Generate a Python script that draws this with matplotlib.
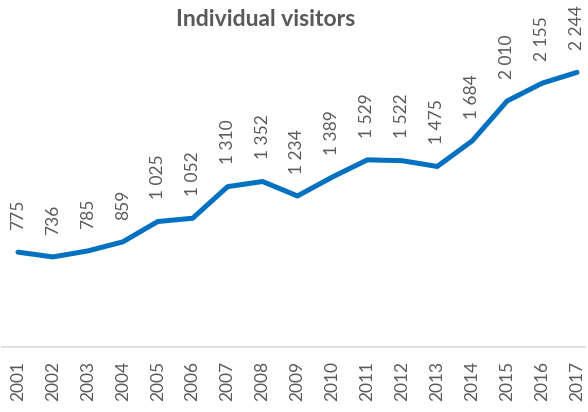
import matplotlib
matplotlib.use("Agg")
import matplotlib.pyplot as plt

years = [str(y) for y in range(2001, 2018)]
visitors = [775, 736, 785, 859, 1025, 1052, 1310, 1352, 1234, 1389, 1529, 1522, 1475, 1684, 2010, 2155, 2244]
labels = ["{:,}".format(v).replace(",", " ") for v in visitors]
title = "Individual visitors"

plt.rcParams['font.family'] = ['Lato', 'DejaVu Sans']
fig = plt.figure(figsize=(5.88, 4.12), dpi=100)
ax = fig.add_axes([2/588, 65/412, 583/588, 1 - 65/412 - 41/412])
x = list(range(len(years)))
ax.plot(x, visitors, color='#0070C0', lw=3.6, solid_joinstyle='round', solid_capstyle='round')
for xi, v, lab in zip(x, visitors, labels):
    ax.annotate(lab, (xi, v), xytext=(0, 16), textcoords='offset points', rotation=90,
                ha='center', va='bottom', fontsize=12.5, color='#595959')
ax.set_xlim(-16/35, 16 + 8/35)
ax.set_ylim(0, 2500)
ax.set_xticks(x)
ax.set_xticklabels(years, rotation=90, fontsize=12.5, color='#595959')
ax.tick_params(axis='x', length=0, pad=10)
ax.set_yticks([])
for s in ['left', 'right', 'top']:
    ax.spines[s].set_visible(False)
ax.spines['bottom'].set_color('#D9D9D9')
ax.spines['bottom'].set_linewidth(1.2)
fig.text(266/588, 1 - 20/412, title, ha='center', va='center', fontsize=16.5, fontweight='bold', color='#595959')
fig.savefig('out.png', dpi=100)
